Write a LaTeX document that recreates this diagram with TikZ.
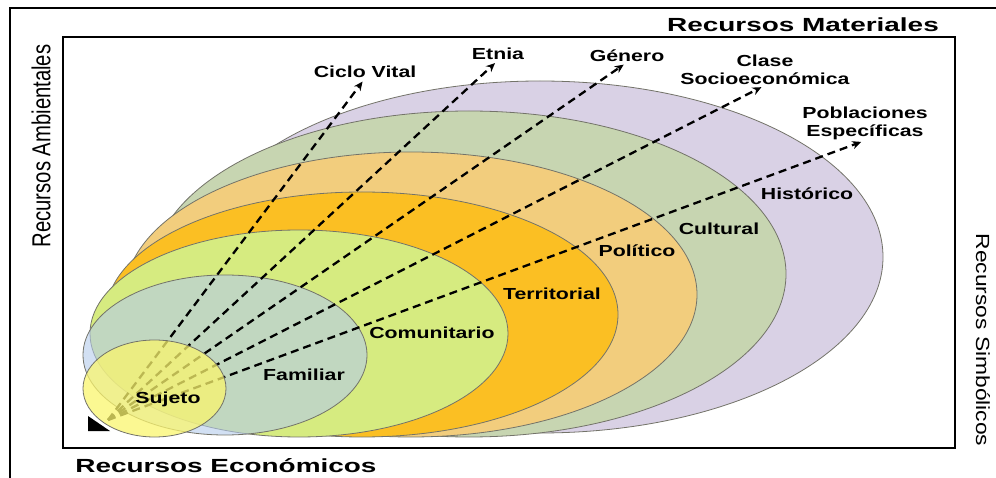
\documentclass[tikz,border=0pt]{standalone}
\usepackage{fontspec}
\newfontfamily\ringfont[FakeStretch=1.33]{Liberation Sans}
\newfontfamily\headfont[FakeStretch=1.47]{Liberation Sans}
\newfontfamily\sidefontL[FakeStretch=0.78]{Liberation Sans}
\newfontfamily\sidefontR[FakeStretch=1.2]{Liberation Sans}
\usetikzlibrary{arrows.meta,positioning}
\definecolor{chist}{RGB}{217,209,229}
\definecolor{ccult}{RGB}{199,213,177}
\definecolor{cpol}{RGB}{242,205,125}
\definecolor{cterr}{RGB}{251,191,35}
\definecolor{ccom}{RGB}{214,235,128}
\definecolor{cfam}{RGB}{180,203,235}
\definecolor{csuj}{RGB}{250,245,110}
\definecolor{cedge}{RGB}{115,115,105}

\begin{document}
\begin{tikzpicture}[x=1pt,y=-1pt,
    ring/.style={draw=cedge, line width=0.8pt},
    layer/.style={font=\ringfont\bfseries\fontsize{16}{18}\selectfont, inner sep=0pt, anchor=base},
    resource/.style={font=\headfont\bfseries\fontsize{19}{19}\selectfont, inner sep=0pt, anchor=base},
    flow/.style={line width=2.3pt, dash pattern=on 8pt off 5pt, shorten >=4pt, -{Stealth[length=9pt,width=8pt]}}]
    \useasboundingbox (0,0) rectangle (996,478);
    \draw[line width=2.5pt] (10,478) -- (10,8) -- (996,8);
    \draw[line width=2pt] (63,37) rectangle (955,448);

    % rings, outermost first
    \path[ring, fill=chist] (540,257) ellipse [x radius=343, y radius=176];
    \path[ring, fill=ccult] (469,274) ellipse [x radius=317, y radius=163];
    \path[ring, fill=cpol] (411,294.5) ellipse [x radius=286, y radius=142.5];
    \path[ring, fill=cterr] (362,314.5) ellipse [x radius=256, y radius=122.5];
    \path[ring, fill=ccom] (299,333.5) ellipse [x radius=209, y radius=103.5];
    \path[ring, fill=cfam, fill opacity=0.6] (225,355) ellipse [x radius=142, y radius=80];
    \fill (88,416) -- (88,431) -- (110,431) -- cycle;

    \node[layer] (CicloVital) at (365,78) {Ciclo Vital};
    \node[layer] (Etnia) at (498,60) {Etnia};
    \node[layer] (Genero) at (627,62) {Género};
    \node[layer, align=center] (Clase) at (765,85) {Clase\\Socioeconómica};
    \node[layer, align=center] (Poblaciones) at (865,137) {Poblaciones\\Específicas};

    \coordinate (Origin) at (108,420);
    \draw[flow] (Origin) -- (CicloVital.south);
    \draw[flow] (Origin) -- (Etnia.south);
    \draw[flow] (Origin) -- (Genero.south);
    \draw[flow] (Origin) -- (Clase.south);
    \draw[flow] (Origin) -- (Poblaciones.south);

    \path[ring, fill=csuj, fill opacity=0.75] (154.5,388.5) ellipse [x radius=71.5, y radius=48.5];

    \node[layer] (Sujeto) at (168,403) {Sujeto};
    \node[layer] (Familiar) at (304,380) {Familiar};
    \node[layer] (Comunitario) at (432,338) {Comunitario};
    \node[layer] (Territorial) at (552,300) {Territorial};
    \node[layer] (Politico) at (637,257) {Político};
    \node[layer] (Cultural) at (719,235) {Cultural};
    \node[layer] (Historico) at (807,200) {Histórico};

    \node[resource] (Materiales) at (803,32) {Recursos Materiales};
    \node[resource] (Economicos) at (226,472) {Recursos Económicos};
    \node[rotate=90, font=\sidefontL\fontsize{26}{26}\selectfont, inner sep=0pt] (Ambientales) at (41,146) {Recursos Ambientales};
    \node[rotate=-90, font=\sidefontR\fontsize{19}{19}\selectfont, inner sep=0pt] (Simbolicos) at (983,340) {Recursos Simbólicos};
\end{tikzpicture}
\end{document}
